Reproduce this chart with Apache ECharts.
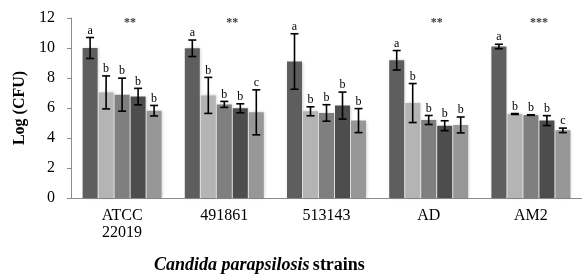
<!DOCTYPE html>
<html>
<head>
    <meta charset="utf-8">
    <title>Log CFU by strain</title>
    <script src="https://cdn.jsdelivr.net/npm/echarts@6/dist/echarts.min.js"></script>
    <style>
        html, body { margin: 0; padding: 0; background: #fff; }
    </style>
</head>
<body>
    <div id="main" style="width: 582px;height:276px;"></div>
    <script type="text/javascript">

// strains on the x axis
var strains = ['ATCC\n22019', '491861', '513143', 'AD', 'AM2'];

// mean Log(CFU), one array per bar in each group
var bar1 = [10.0, 9.98, 9.1, 9.18, 10.1];
var bar2 = [7.04, 6.84, 5.78, 6.33, 5.6];
var bar3 = [6.89, 6.24, 5.67, 5.2, 5.53];
var bar4 = [6.76, 5.98, 6.16, 4.82, 5.16];
var bar5 = [5.82, 5.71, 5.16, 4.87, 4.51];

// error bar half-heights
var err1 = [0.7, 0.55, 1.85, 0.65, 0.15];
var err2 = [1.1, 1.2, 0.3, 1.3, 0.03];
var err3 = [1.1, 0.2, 0.55, 0.3, 0.02];
var err4 = [0.55, 0.3, 0.9, 0.33, 0.33];
var err5 = [0.35, 1.5, 0.8, 0.53, 0.15];

// significance letters above each bar
var let1 = ['a', 'a', 'a', 'a', 'a'];
var let2 = ['b', 'b', 'b', 'b', 'b'];
var let3 = ['b', 'b', 'b', 'b', 'b'];
var let4 = ['b', 'b', 'b', 'b', 'b'];
var let5 = ['b', 'c', 'b', 'b', 'c'];

// stars over each group
var stars = ['**', '**', '', '**', '***'];

var means = [bar1, bar2, bar3, bar4, bar5];
var errs = [err1, err2, err3, err4, err5];
var letters = [let1, let2, let3, let4, let5];
var colors = ['#5e5e5e', '#b4b4b4', '#7f7f7f', '#4d4d4d', '#979797'];

var SERIF = '"Liberation Serif", "Times New Roman", serif';
var BAR_W = 15;
var GAP = 1;

var myChart = echarts.init(document.getElementById('main'));

function errorSeries(si) {
    return {
        type: 'custom',
        z: 10,
        silent: true,
        data: strains.map(function (s, i) {
            return [i, means[si][i], errs[si][i]];
        }),
        encode: { x: 0, y: 1 },
        renderItem: function (params, api) {
            var ci = api.value(0);
            var m = api.value(1);
            var e = api.value(2);
            var base = api.coord([ci, m]);
            var x = base[0] + (si - 2) * (BAR_W + GAP);
            var hi = api.coord([ci, m + e])[1];
            var lo = api.coord([ci, m - e])[1];
            var lineStyle = { stroke: '#000', lineWidth: 1.6 };
            return {
                type: 'group',
                children: [
                    { type: 'line', shape: { x1: x, y1: hi, x2: x, y2: lo }, style: lineStyle },
                    { type: 'line', shape: { x1: x - 4, y1: hi, x2: x + 4, y2: hi }, style: lineStyle },
                    { type: 'line', shape: { x1: x - 4, y1: lo, x2: x + 4, y2: lo }, style: lineStyle },
                    {
                        type: 'text',
                        style: {
                            text: letters[si][ci],
                            x: x,
                            y: hi - 1,
                            align: 'center',
                            verticalAlign: 'bottom',
                            font: '12px ' + SERIF,
                            fill: '#000'
                        }
                    }
                ]
            };
        }
    };
}

var series = [];
for (var s = 0; s < 5; s++) {
    series.push({
        type: 'bar',
        data: means[s],
        barWidth: BAR_W,
        barGap: (GAP / BAR_W * 100) + '%',
        itemStyle: {
            color: colors[s],
            shadowColor: 'rgba(0,0,0,0.18)',
            shadowBlur: 3,
            shadowOffsetX: 1
        },
        silent: true
    });
}
for (var s = 0; s < 5; s++) {
    series.push(errorSeries(s));
}
// stars over the groups
series.push({
    type: 'scatter',
    symbolSize: 0,
    silent: true,
    data: stars.map(function (t) { return 11.7; }),
    label: {
        show: true,
        position: 'inside',
        offset: [8, 0],
        formatter: function (p) { return stars[p.dataIndex]; },
        color: '#000',
        fontFamily: SERIF,
        fontSize: 12,
        fontWeight: 'bold'
    }
});

var option = {
    animation: false,
    grid: { left: 71, top: 18, width: 517, height: 180 },
    xAxis: {
        type: 'category',
        data: strains,
        axisLine: { lineStyle: { color: '#8c8c8c', width: 1 } },
        axisTick: { length: 5, lineStyle: { color: '#8c8c8c' } },
        axisLabel: {
            color: '#000',
            fontFamily: SERIF,
            fontSize: 16,
            margin: 9,
            lineHeight: 17
        }
    },
    yAxis: {
        type: 'value',
        min: 0,
        max: 12,
        interval: 2,
        name: 'Log (CFU)',
        nameLocation: 'middle',
        nameGap: 42,
        nameTextStyle: {
            color: '#000',
            fontFamily: SERIF,
            fontSize: 16,
            fontWeight: 'bold'
        },
        axisLine: { show: true, lineStyle: { color: '#8c8c8c', width: 1 } },
        axisTick: { show: true, length: 4, lineStyle: { color: '#8c8c8c' } },
        splitLine: { show: false },
        axisLabel: {
            color: '#000',
            fontFamily: SERIF,
            fontSize: 16,
            margin: 16
        }
    },
    graphic: [{
        type: 'text',
        left: 154,
        top: 256,
        style: {
            text: '{i|Candida parapsilosis} {b|strains}',
            rich: {
                i: { fontFamily: SERIF, fontSize: 18, fontWeight: 'bold', fontStyle: 'italic', fill: '#000' },
                b: { fontFamily: SERIF, fontSize: 18, fontWeight: 'bold', fill: '#000' }
            }
        }
    }],
    series: series
};

myChart.setOption(option);
    </script>
</body>
</html>
